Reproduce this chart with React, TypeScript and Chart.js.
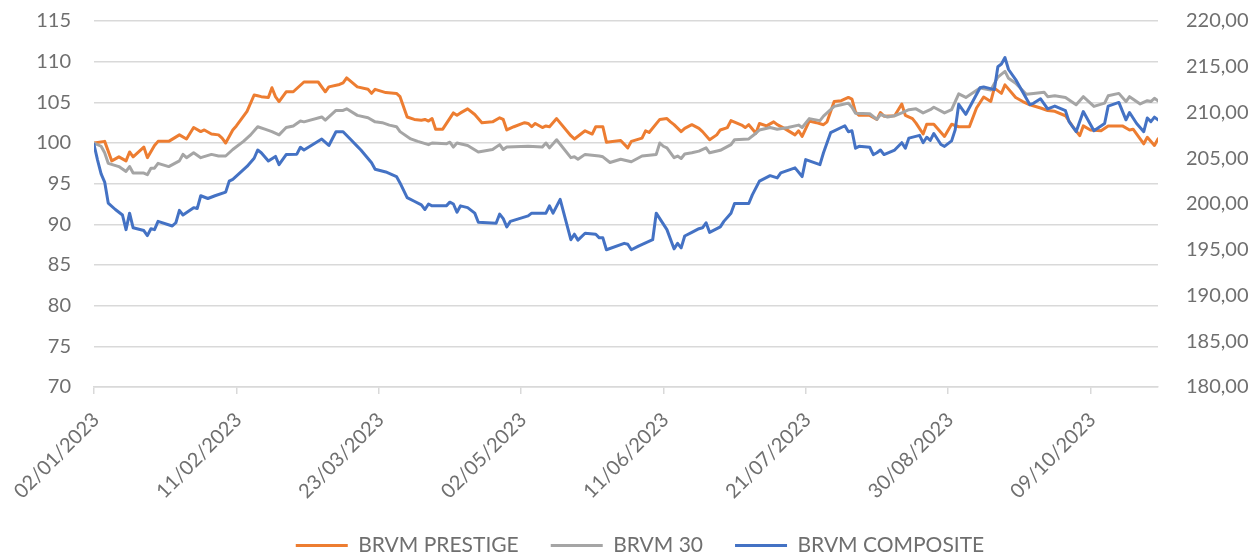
import React, { useEffect, useRef } from 'react';
import { Chart, registerables } from 'chart.js';

Chart.register(...registerables);

// X-axis tick labels (every 40 days)
const xTickLabels = ['02/01/2023', '11/02/2023', '23/03/2023', '02/05/2023', '11/06/2023', '21/07/2023', '30/08/2023', '09/10/2023'];
const leftTicks = [70, 75, 80, 85, 90, 95, 100, 105, 110, 115];
const rightTicks = [180, 185, 190, 195, 200, 205, 210, 215, 220];
const seriesNames = ['BRVM PRESTIGE', 'BRVM 30', 'BRVM COMPOSITE'];

// Days since 02/01/2023
const prestigeDays = [0,3,5,7,9,10,11,14,15,17,18,21,24,26,28,30,31,33,35,36,37,39,40,43,45,46,47,49,50,51,52,54,56,59,63,65,66,69,70,71,74,77,78,79,82,85,86,88,90,92,93,94,95,96,98,101,102,103,105,107,109,112,114,115,116,118,121,122,123,124,126,127,128,130,134,135,138,140,141,143,144,148,150,151,154,155,156,159,161,162,163,165,166,168,170,171,173,175,176,178,179,182,183,184,186,187,189,191,192,194,197,198,199,201,203,205,206,208,210,212,213,214,215,218,220,221,222,225,227,228,230,231,233,234,236,239,241,243,246,248,250,252,253,255,256,259,261,263,266,268,270,273,275,277,278,280,283,285,289,291,292,295,296,298,299];
const prestigeValues = [100.0,100.2,97.8,98.3,97.8,98.9,98.3,99.5,98.2,99.7,100.2,100.2,101.0,100.5,101.9,101.4,101.6,101.1,101.0,100.6,100.0,101.6,102.1,103.9,105.9,105.8,105.7,105.6,106.8,105.7,105.1,106.3,106.3,107.5,107.5,106.3,106.9,107.2,107.4,108.0,106.9,106.6,106.1,106.6,106.2,106.1,105.7,103.2,102.9,102.8,102.9,102.7,103.0,101.7,101.7,103.7,103.4,103.7,104.2,103.5,102.5,102.6,103.1,102.9,101.6,102.0,102.5,102.4,102.0,102.4,101.9,102.1,102.0,103.0,100.9,100.5,101.5,101.1,102.0,102.0,100.1,100.3,99.4,100.2,100.6,101.5,101.3,102.9,103.0,102.6,102.25,101.4,101.8,102.25,101.8,101.4,100.4,101.0,101.6,101.9,102.75,102.2,101.9,102.25,101.2,102.4,102.1,102.6,102.25,101.8,101.0,101.5,100.8,102.7,102.5,102.25,102.6,105.1,105.2,105.6,105.4,103.8,103.4,103.4,102.9,103.75,103.3,103.35,104.8,103.4,103.0,102.45,101.1,102.3,102.3,100.8,102.3,102.0,102.0,104.3,105.65,105.1,106.75,106.1,107.15,105.6,105.1,104.7,104.3,104.0,103.9,103.35,102.05,100.9,102.1,101.6,101.5,102.1,102.1,101.6,101.7,99.9,100.7,99.7,100.5];

const brvm30Days = [0,2,3,4,7,9,10,11,14,15,16,17,18,21,24,25,26,28,30,33,35,37,39,42,44,46,48,50,52,54,56,58,59,64,65,68,70,71,74,77,79,81,83,85,86,89,91,94,95,99,100,101,102,105,108,112,114,115,116,122,126,127,128,130,134,135,136,138,142,143,145,148,151,154,158,159,160,161,163,164,165,166,168,170,172,173,176,179,180,184,186,187,190,192,195,198,199,201,204,205,208,210,212,213,214,218,220,221,223,225,227,229,231,233,235,236,239,241,243,245,249,252,254,256,257,259,262,264,267,268,270,273,276,278,281,284,285,288,290,291,294,296,297,298,299];
const brvm30Values = [100.0,99.6,98.8,97.5,97.1,96.5,97.1,96.3,96.3,96.1,96.9,96.9,97.5,97.1,97.8,98.6,98.2,98.8,98.2,98.6,98.4,98.4,99.2,100.2,101.0,102.0,101.7,101.4,101.0,101.9,102.1,102.7,102.6,103.2,102.8,104.0,104.0,104.2,103.4,103.1,102.6,102.5,102.2,102.0,101.4,100.5,100.2,99.8,100.0,99.9,100.1,99.5,100.0,99.7,98.9,99.2,99.8,99.2,99.5,99.6,99.5,100.0,99.4,100.4,98.2,98.3,98.0,98.6,98.4,98.3,97.6,98.0,97.7,98.4,98.6,100.0,99.6,99.4,98.2,98.4,98.1,98.65,98.8,99.0,99.4,98.8,99.1,99.8,100.4,100.5,101.2,101.6,101.9,101.7,101.9,102.2,101.9,103.0,102.75,103.3,104.5,104.7,104.9,104.4,103.65,103.6,102.9,103.5,103.2,103.35,103.7,104.1,104.2,103.7,104.1,104.4,103.7,104.1,106.05,105.6,106.75,106.5,108.1,108.8,107.95,107.35,106.0,106.1,106.25,105.7,105.8,105.6,104.7,105.7,104.5,104.9,105.8,106.1,105.1,105.7,104.8,105.2,105.1,105.5,105.2];

const compositeDays = [0,1,2,3,4,6,8,9,10,11,14,15,16,17,18,22,23,24,25,28,29,30,32,34,37,38,39,43,45,46,47,49,51,52,54,57,58,59,64,66,68,70,72,74,75,78,79,82,85,86,88,90,92,93,94,95,99,100,101,102,103,105,107,108,113,114,115,116,117,122,123,127,128,129,131,134,135,136,138,141,142,143,144,149,150,151,153,157,158,161,163,164,165,166,168,170,171,172,173,176,177,179,180,184,185,187,190,192,193,197,199,200,204,205,207,211,212,213,214,215,218,219,220,221,222,225,227,228,229,232,233,234,235,236,238,239,241,242,243,245,249,250,253,254,255,256,257,259,263,264,266,268,270,273,274,276,278,281,284,285,288,290,291,293,295,296,297,298,299];
const compositeValues = [206.5,204.8,203.3,202.4,200.1,199.4,198.8,197.2,199.0,197.4,197.1,196.55,197.3,197.2,198.1,197.6,197.95,199.3,198.8,199.6,199.5,200.9,200.6,200.9,201.3,202.5,202.7,204.1,205.0,205.9,205.6,204.7,205.2,204.3,205.4,205.45,206.2,205.9,207.1,206.4,207.9,207.9,207.1,206.3,205.9,204.5,203.8,203.5,203.0,202.3,200.7,200.3,199.9,199.4,200.0,199.8,199.8,200.2,200.0,199.1,199.8,199.6,199.0,198.0,197.9,198.9,198.4,197.5,198.1,198.7,199.0,199.0,199.8,199.0,200.5,196.1,196.7,196.05,196.8,196.7,196.3,196.3,195.0,195.7,195.6,195.0,195.4,196.1,199.0,197.2,195.1,195.7,195.2,196.5,196.9,197.3,197.4,197.95,196.9,197.5,198.1,199.0,200.05,200.05,201.0,202.5,203.1,202.85,203.4,203.95,203.0,204.85,204.3,205.6,207.8,208.55,207.9,208.0,206.1,206.3,206.2,205.4,205.6,205.9,205.4,205.9,206.7,206.1,207.2,207.5,206.7,207.3,206.95,207.7,206.5,206.3,206.9,208.1,210.9,209.8,212.7,212.8,212.5,215.0,215.3,216.0,214.7,213.6,210.85,211.0,211.5,210.4,210.7,210.2,209.0,207.9,210.1,208.0,208.8,210.7,211.1,209.2,210.0,208.8,207.9,209.4,209.0,209.5,209.2];

const DAY = 86400000;
function parseDate(s: string): number {
  const [d, m, y] = s.split('/').map(Number);
  return Date.UTC(y, m - 1, d);
}
const startMs = parseDate(xTickLabels[0]);
const tickDays = xTickLabels.map((l) => Math.round((parseDate(l) - startMs) / DAY));
function dayLabel(day: number): string {
  const dt = new Date(startMs + day * DAY);
  const dd = String(dt.getUTCDate()).padStart(2, '0');
  const mm = String(dt.getUTCMonth() + 1).padStart(2, '0');
  return `${dd}/${mm}/${dt.getUTCFullYear()}`;
}
const toPoints = (days: number[], vals: number[]) => days.map((d, i) => ({ x: d, y: vals[i] }));
const lastDay = Math.max(prestigeDays[prestigeDays.length - 1], brvm30Days[brvm30Days.length - 1], compositeDays[compositeDays.length - 1]);

const FONT = 'Lato, "Open Sans", sans-serif';
const TEXT = '#6f6f6f';
const GRID = '#d9d9d9';

export default function App() {
  const ref = useRef<HTMLCanvasElement | null>(null);
  useEffect(() => {
    if (!ref.current) return;
    const common = { borderWidth: 3, pointRadius: 0, tension: 0, fill: false, borderJoinStyle: 'round' as const, borderCapStyle: 'round' as const };
    const chart = new Chart(ref.current, {
      type: 'line',
      data: {
        datasets: [
          { label: seriesNames[2], data: toPoints(compositeDays, compositeValues), borderColor: '#4472C4', backgroundColor: '#4472C4', yAxisID: 'y1', ...common },
          { label: seriesNames[1], data: toPoints(brvm30Days, brvm30Values), borderColor: '#A5A5A5', backgroundColor: '#A5A5A5', yAxisID: 'y', ...common },
          { label: seriesNames[0], data: toPoints(prestigeDays, prestigeValues), borderColor: '#ED7D31', backgroundColor: '#ED7D31', yAxisID: 'y', ...common },
        ],
      },
      options: {
        animation: false,
        responsive: true,
        maintainAspectRatio: false,
        layout: { padding: { top: 21, left: 24, right: 0, bottom: -13 } },
        plugins: {
          tooltip: { enabled: false },
          legend: {
            position: 'bottom',
            reverse: true,
            labels: {
              usePointStyle: true,
              pointStyle: 'line',
              pointStyleWidth: 52,
              boxHeight: 3,
              padding: 32,
              color: TEXT,
              font: { family: FONT, size: 21 },
            },
          },
        },
        scales: {
          x: {
            type: 'linear',
            min: 0,
            max: lastDay,
            afterBuildTicks: (scale: any) => { scale.ticks = tickDays.map((v) => ({ value: v })); },
            afterFit: (scale: any) => { scale.height = 116; },
            grid: { drawOnChartArea: false, drawTicks: true, tickLength: 7, color: GRID, lineWidth: 1.5 },
            border: { display: true, color: GRID, width: 1.5 },
            ticks: {
              minRotation: 45,
              maxRotation: 45,
              autoSkip: false,
              padding: 14,
              labelOffset: 2,
              color: TEXT,
              font: { family: FONT, size: 20 },
              callback: (v: any) => dayLabel(Number(v)),
            },
          },
          y: {
            type: 'linear',
            position: 'left',
            min: leftTicks[0],
            max: leftTicks[leftTicks.length - 1],
            afterBuildTicks: (scale: any) => { scale.ticks = leftTicks.map((v) => ({ value: v })); },
            afterFit: (scale: any) => { scale.width = 70; scale.paddingTop = 12; scale.paddingBottom = 12; },
            grid: { color: GRID, lineWidth: 1.5, drawTicks: false },
            border: { display: false },
            ticks: { padding: 23, color: TEXT, font: { family: FONT, size: 20 } },
          },
          y1: {
            type: 'linear',
            position: 'right',
            min: rightTicks[0],
            max: rightTicks[rightTicks.length - 1],
            afterBuildTicks: (scale: any) => { scale.ticks = rightTicks.map((v) => ({ value: v })); },
            afterFit: (scale: any) => { scale.width = 98; scale.paddingTop = 12; scale.paddingBottom = 12; },
            grid: { display: false, drawTicks: false },
            border: { display: false },
            ticks: {
              padding: 28,
              color: TEXT,
              font: { family: FONT, size: 20 },
              callback: (v: any) => Number(v).toFixed(2).replace('.', ','),
            },
          },
        },
      },
    });
    return () => chart.destroy();
  }, []);
  return (
    <div style={{ position: 'absolute', left: 0, top: 0, width: 1256, height: 553, background: '#fff' }}>
      <canvas ref={ref} />
    </div>
  );
}
